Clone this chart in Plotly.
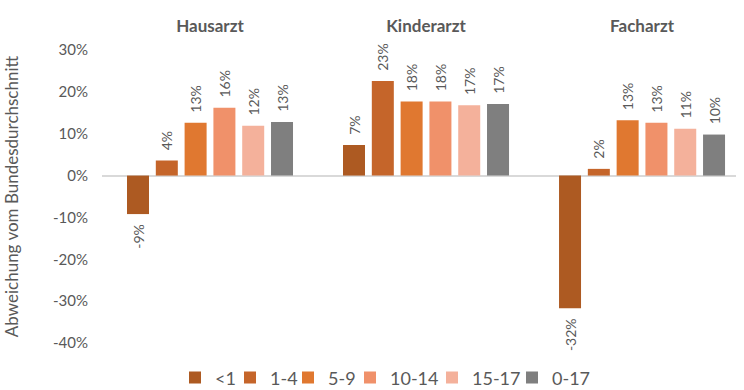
import plotly.graph_objects as go

# Abweichung der Inanspruchnahme vom Bundesdurchschnitt (in %), je Arztgruppe und Altersgruppe
categories = ["Hausarzt", "Kinderarzt", "Facharzt"]
age_groups = ["<1", "1-4", "5-9", "10-14", "15-17", "0-17"]

lt1 = [-9.2, 7.3, -31.7]
age_1_4 = [3.6, 22.6, 1.6]
age_5_9 = [12.6, 17.7, 13.2]
age_10_14 = [16.2, 17.7, 12.6]
age_15_17 = [11.9, 16.8, 11.2]
age_0_17 = [12.8, 17.1, 9.8]

series = [lt1, age_1_4, age_5_9, age_10_14, age_15_17, age_0_17]
colors = ["#AD5A22", "#C5652A", "#E07830", "#F0916A", "#F4B19B", "#7F7F7F"]

y_ticks = [-40, -30, -20, -10, 0, 10, 20, 30]
y_ticktext = [f"{v}%" for v in y_ticks]

TEXT = "#595959"
FONT = "Lato"
PAD = "\u00a0\u00a0"

# plot area in pixels (left edge / width) and left edges of the legend entries
PLOT_L, PLOT_W = 102, 634
legend_left = [175, 230, 288, 350, 432, 512]


def label(v):
    s = f"{round(v):.0f}%"
    # keep a little distance between the label and the end of the bar
    return PAD + s if v >= 0 else s + PAD


fig = go.Figure()
legend_layout = {}
for i, (name, vals, col) in enumerate(zip(age_groups, series, colors)):
    lg = "legend" if i == 0 else f"legend{i + 1}"
    fig.add_trace(go.Bar(
        name=name,
        x=categories,
        y=vals,
        legend=lg,
        marker=dict(color=col, line=dict(width=0)),
        text=[label(v) for v in vals],
        textposition="outside",
        textangle=-90,
        constraintext="none",
        cliponaxis=False,
        textfont=dict(family=FONT, size=14, color=TEXT),
        hovertemplate="%{x} " + name + ": %{y:.1f}%<extra></extra>",
    ))
    legend_layout[lg] = dict(
        orientation="h",
        x=(legend_left[i] - PLOT_L) / PLOT_W,
        xanchor="left",
        y=-0.119,
        yanchor="middle",
        font=dict(family=FONT, size=18, color=TEXT),
        itemwidth=30,
        bgcolor="rgba(0,0,0,0)",
    )

fig.update_layout(
    width=744,
    height=390,
    margin=dict(l=PLOT_L, r=744 - PLOT_L - PLOT_W, t=50, b=47, autoexpand=False),
    paper_bgcolor="white",
    plot_bgcolor="white",
    barmode="group",
    bargap=0.2,
    bargroupgap=0.236,
    font=dict(family=FONT, color=TEXT),
    showlegend=True,
    xaxis=dict(
        side="top",
        range=[-0.5, 2.435],
        showline=False,
        showgrid=False,
        zeroline=False,
        ticks="",
        tickmode="array",
        tickvals=categories,
        ticktext=[f"<b>{c}</b>" for c in categories],
        tickfont=dict(family=FONT, size=17, color=TEXT),
        ticklabelstandoff=14,
    ),
    yaxis=dict(
        range=[-40, 30],
        tickmode="array",
        tickvals=y_ticks,
        ticktext=y_ticktext,
        showgrid=False,
        showline=False,
        ticks="",
        zeroline=True,
        zerolinecolor="#D9D9D9",
        zerolinewidth=2,
        tickfont=dict(family=FONT, size=15, color=TEXT),
        ticklabelstandoff=13,
        title=dict(
            text="Abweichung vom Bundesdurchschnitt",
            font=dict(family=FONT, size=17, color=TEXT),
            standoff=30,
        ),
    ),
)
fig.update_layout(**legend_layout)

fig.write_html("out.html")
